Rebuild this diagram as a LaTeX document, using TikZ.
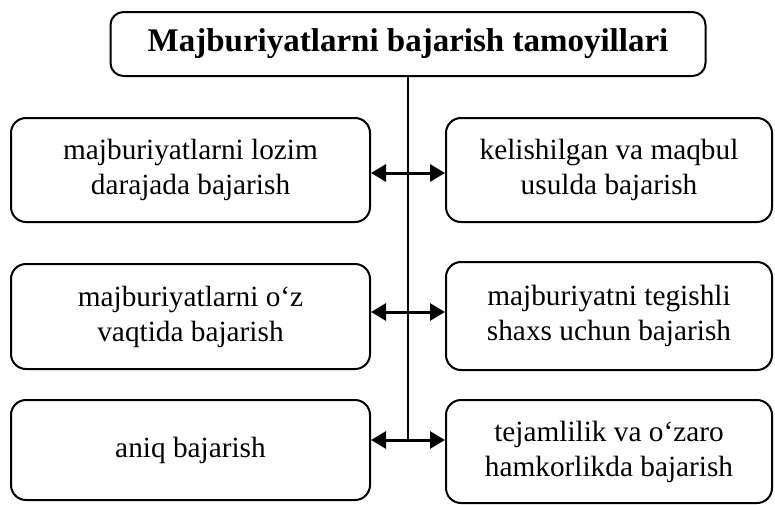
\documentclass[tikz,border=0pt]{standalone}
\usepackage{fontspec}
\setmainfont{Liberation Serif}
\usetikzlibrary{arrows.meta}
\begin{document}
\begin{tikzpicture}[x=1pt,y=-1pt,
  box/.style={draw, line width=2pt, rounded corners=15pt, align=center,
    inner sep=0pt, font=\fontsize{29.3}{35}\selectfont},
  lbox/.style={box, minimum width=359pt},
  rbox/.style={box, minimum width=326pt},
  titlebox/.style={draw, line width=2pt, rounded corners=13pt, inner sep=0pt,
    minimum width=595pt, minimum height=64pt, font=\bfseries\fontsize{33}{38}\selectfont},
  arr/.style={line width=3pt, -{Triangle[length=15pt,width=17pt]}},
  trunk/.style={line width=1.3pt}]
\useasboundingbox (0,0) rectangle (775,504);
\node[titlebox] (T) at (408,44) {Majburiyatlarni bajarish tamoyillari};
\node[lbox, minimum height=104pt] (L1) at (190.5,170) {majburiyatlarni lozim\\darajada bajarish};
\node[rbox, minimum height=104pt] (R1) at (609,170) {kelishilgan va maqbul\\usulda bajarish};
\node[lbox, minimum height=105pt] (L2) at (190.5,316.5) {majburiyatlarni o‘z\\vaqtida bajarish};
\node[rbox, minimum height=108pt] (R2) at (609,316) {majburiyatni tegishli\\shaxs uchun bajarish};
\node[lbox, minimum height=100pt] (L3) at (190.5,450) {aniq bajarish};
\node[rbox, minimum height=103pt] (R3) at (609,451.5) {tejamlilik va o‘zaro\\hamkorlikda bajarish};
\coordinate (c1) at (408,173);
\coordinate (c2) at (408,312);
\coordinate (c3) at (408,440);
\draw[trunk] (T.south) -- (c3);
\draw[arr] (c1) -- (c1 -| L1.east);
\draw[arr] (c1) -- (c1 -| R1.west);
\draw[arr] (c2) -- (c2 -| L2.east);
\draw[arr] (c2) -- (c2 -| R2.west);
\draw[arr] (c3) -- (c3 -| L3.east);
\draw[arr] (c3) -- (c3 -| R3.west);
\end{tikzpicture}
\end{document}
